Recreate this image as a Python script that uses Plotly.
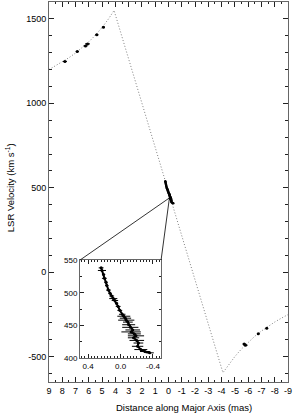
import plotly.graph_objects as go

# ---- data ----
# model rotation curve (dotted)
model_x = [9, 8.5, 8, 7.5, 7, 6.5, 6, 5.5, 5, 4.5, 4.1,
           -4.1, -4.5, -5, -5.5, -6, -6.5, -7, -7.5, -8, -8.5, -9]
model_v = [1200, 1222, 1245, 1270, 1298, 1329, 1364, 1404, 1449, 1502, 1550,
           -595, -551, -499, -454, -414, -379, -348, -320, -295, -272, -251]

# high-velocity (blue/red shifted) maser features
hv_x = [7.8, 6.87, 6.25, 6.1, 5.4, 4.9, -5.8, -5.7, -6.76, -7.4]
hv_v = [1248, 1307, 1340, 1352, 1406, 1451, -432, -425, -364, -332]
hv_err = [0.15, 0.12, 0.15, 0.18, 0.12, 0.12, 0.15, 0.12, 0.1, 0.08]

# systemic maser features
sys_x = [0.24, 0.23, 0.21, 0.20, 0.18, 0.17, 0.15, 0.13, 0.11, 0.09, 0.07, 0.05,
         0.03, 0.01, -0.02, -0.04, -0.06, -0.07, -0.09, -0.10, -0.12, -0.15,
         -0.13, -0.17, -0.19, -0.16, -0.20, -0.22, -0.21, -0.25, -0.30, -0.36]
sys_v = [538, 534, 528, 522, 516, 511, 504, 499, 495, 491, 488, 484,
         479, 473, 467, 464, 461, 458, 455, 451, 447, 443,
         440, 437, 434, 431, 427, 423, 418, 413, 410, 408]
sys_err = [0.03, 0.05, 0.02, 0.03, 0.02, 0.02, 0.03, 0.02, 0.03, 0.05, 0.04, 0.02,
           0.03, 0.03, 0.04, 0.08, 0.07, 0.10, 0.06, 0.08, 0.10, 0.09,
           0.12, 0.08, 0.10, 0.07, 0.09, 0.06, 0.07, 0.08, 0.06, 0.05]

x_ticks = list(range(9, -10, -1))
x_ticktext = [str(v) for v in x_ticks]
y_ticks = [-500, 0, 500, 1000, 1500]
y_ticktext = [str(v) for v in y_ticks]
ins_x_ticks = [0.4, 0.0, -0.4]
ins_x_text = ["0.4", "0.0", "-0.4"]
ins_y_ticks = [400, 450, 500, 550]
ins_y_text = [str(v) for v in ins_y_ticks]

XR = [9, -9]
YR = [-650, 1600]
INS_XD = [0.130, 0.469]
INS_YD = [0.063, 0.321]
zoom_pt = (-0.07, 440)

FONT = "Liberation Sans, Arial, Helvetica, sans-serif"

fig = go.Figure()
fig.add_trace(go.Scatter(x=model_x, y=model_v, mode="lines",
                         line=dict(color="#808080", width=1, dash="1px,2px"),
                         hoverinfo="skip", showlegend=False))
fig.add_trace(go.Scatter(x=hv_x, y=hv_v, mode="markers",
                         marker=dict(color="black", size=3),
                         error_x=dict(type="data", array=hv_err, color="black",
                                      thickness=1.2, width=0),
                         showlegend=False))
fig.add_trace(go.Scatter(x=sys_x, y=sys_v, mode="markers",
                         marker=dict(color="black", size=2.5),
                         error_x=dict(type="data", array=sys_err, color="black",
                                      thickness=1, width=0),
                         showlegend=False))
# inset
fig.add_trace(go.Scatter(x=sys_x, y=sys_v, mode="lines+markers",
                         line=dict(color="black", width=2),
                         marker=dict(color="black", size=3),
                         error_x=dict(type="data", array=sys_err, color="black",
                                      thickness=1, width=0),
                         xaxis="x2", yaxis="y2", showlegend=False))

axis_common = dict(showgrid=False, zeroline=False, showline=True,
                   linecolor="#666666", linewidth=1, mirror="ticks",
                   ticks="inside", tickcolor="#222222", automargin=False,
                   tickfont=dict(family=FONT, size=9, color="black"))
inset_font = dict(family=FONT, size=8, color="black")

fig.update_layout(
    width=293, height=415,
    margin=dict(l=49, r=5, t=2, b=33),
    paper_bgcolor="white", plot_bgcolor="white",
    font=dict(family=FONT, color="black"),
    xaxis=dict(range=XR, tickvals=x_ticks, ticktext=x_ticktext, ticklen=5,
               minor=dict(dtick=0.5, tick0=0, ticklen=2, ticks="inside",
                          tickcolor="#222222"),
               **axis_common),
    yaxis=dict(range=YR, tickvals=y_ticks, ticktext=y_ticktext, ticklen=5,
               minor=dict(dtick=100, tick0=0, ticklen=3, ticks="inside",
                          tickcolor="#222222"),
               **axis_common),
    xaxis2=dict(domain=INS_XD, anchor="y2", range=[0.5, -0.5],
                tickvals=ins_x_ticks, ticktext=ins_x_text, ticklen=4,
                minor=dict(dtick=0.04, tick0=0, ticklen=2, ticks="inside",
                           tickcolor="#222222"),
                **{**axis_common, "tickfont": inset_font}),
    yaxis2=dict(domain=INS_YD, anchor="x2", range=[400, 550],
                tickvals=ins_y_ticks, ticktext=ins_y_text, ticklen=4,
                minor=dict(dtick=25, tick0=0, ticklen=2, ticks="inside",
                           tickcolor="#222222"),
                **{**axis_common, "tickfont": inset_font}),
)

# connector lines from the inset to the zoomed region on the main axes
px = (XR[0] - zoom_pt[0]) / (XR[0] - XR[1])
py = (zoom_pt[1] - YR[0]) / (YR[1] - YR[0])
for cx in INS_XD:
    fig.add_shape(type="line", xref="paper", yref="paper",
                  x0=cx, y0=INS_YD[1], x1=px, y1=py,
                  line=dict(color="black", width=0.8))

fig.add_annotation(xref="paper", yref="paper", x=-0.163, y=0.51,
                   text="LSR Velocity (km s<sup>-1</sup>)", textangle=-90,
                   showarrow=False, xanchor="center", yanchor="middle",
                   font=dict(family=FONT, size=9.5, color="black"))
fig.add_annotation(xref="paper", yref="paper", x=0.565, y=-0.068,
                   text="Distance along Major Axis (mas)",
                   showarrow=False, xanchor="center", yanchor="middle",
                   font=dict(family=FONT, size=9.5, color="black"))

fig.write_html("out.html", config={"displayModeBar": False},
               post_script="document.body.style.margin='0';document.body.style.overflow='hidden';")
